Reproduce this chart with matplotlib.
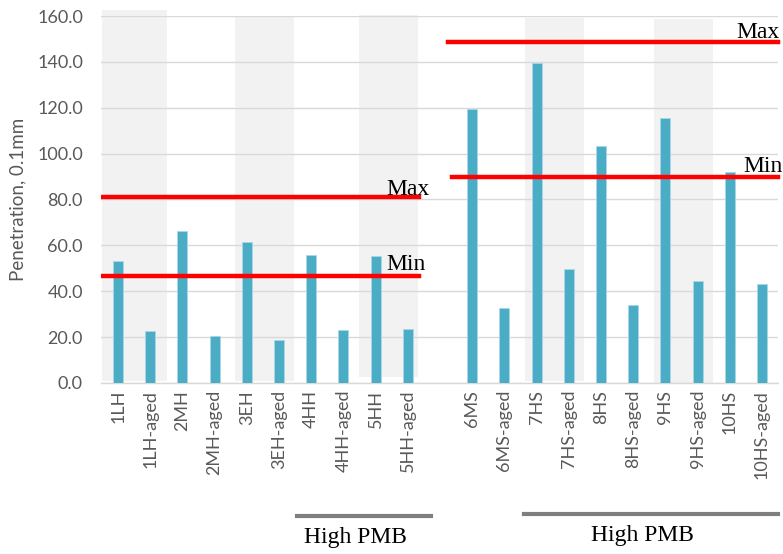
import matplotlib
matplotlib.use("Agg")
import matplotlib.pyplot as plt
from matplotlib.patches import Rectangle
from matplotlib.lines import Line2D

# Penetration results (0.1 mm), unaged and aged binders
group1_labels = ["1LH", "1LH-aged", "2MH", "2MH-aged", "3EH", "3EH-aged",
                 "4HH", "4HH-aged", "5HH", "5HH-aged"]
group1_values = [53.4, 22.5, 66.4, 20.6, 61.4, 18.7, 55.9, 23.1, 55.5, 23.5]

group2_labels = ["6MS", "6MS-aged", "7HS", "7HS-aged", "8HS", "8HS-aged",
                 "9HS", "9HS-aged", "10HS", "10HS-aged"]
group2_values = [119.6, 32.5, 139.5, 49.5, 103.2, 34.1, 115.7, 44.4, 91.8, 43.1]

# Specification limits for each grade
group1_limits = {"Max": 80.9, "Min": 46.5}
group2_limits = {"Max": 148.8, "Min": 90.0}

y_ticks = [0, 20, 40, 60, 80, 100, 120, 140, 160]

plt.rcParams["font.family"] = ["Lato", "DejaVu Sans"]

fig = plt.figure(figsize=(7.83, 5.54), dpi=100)
ax = fig.add_axes([0.129, 0.3087, 0.8647, 0.6624])

pos1 = list(range(len(group1_labels)))
pos2 = [len(group1_labels) + 1 + i for i in range(len(group2_labels))]
all_pos = pos1 + pos2
all_labels = group1_labels + group2_labels

# Alternating background bands
bands = [(-0.5, 2.02, 0.9, 162.6), (3.63, 1.84, 0.9, 160.0),
         (7.48, 1.84, 2.5, 160.4), (12.64, 1.83, 0.9, 159.1),
         (16.65, 1.83, 0.0, 158.6)]
for x0, w, y0, y1 in bands:
    ax.add_patch(Rectangle((x0, y0), w, y1 - y0, facecolor="#f2f2f2",
                           edgecolor="none", zorder=0, clip_on=False))

ax.bar(pos1, group1_values, width=0.31, color="#4bacc6",
       edgecolor="#a8d8e5", linewidth=0.6, zorder=3)
ax.bar(pos2, group2_values, width=0.31, color="#4bacc6",
       edgecolor="#a8d8e5", linewidth=0.6, zorder=3)

# Limit lines with labels
ax.plot([-0.53, 9.35], [group1_limits["Max"]] * 2, color="#ff0000", lw=3.2, zorder=4)
ax.plot([-0.53, 9.35], [group1_limits["Min"]] * 2, color="#ff0000", lw=3.2, zorder=4)
ax.plot([10.25, 20.5], [group2_limits["Max"]] * 2, color="#ff0000", lw=3.2, zorder=4,
        clip_on=False)
ax.plot([10.37, 20.5], [group2_limits["Min"]] * 2, color="#ff0000", lw=3.2, zorder=4,
        clip_on=False)

serif = ["Liberation Serif", "DejaVu Serif"]
fs_note = 17
ax.text(8.32, group1_limits["Max"] + 3.4, "Max", family=serif, fontsize=fs_note,
        color="black", va="center", ha="left", zorder=5)
ax.text(8.32, group1_limits["Min"] + 5.0, "Min", family=serif, fontsize=fs_note,
        color="black", va="center", ha="left", zorder=5)
ax.text(19.22, group2_limits["Max"] + 3.9, "Max", family=serif, fontsize=fs_note,
        color="black", va="center", ha="left", zorder=5, clip_on=False)
ax.text(19.41, group2_limits["Min"] + 4.3, "Min", family=serif, fontsize=fs_note,
        color="black", va="center", ha="left", zorder=5, clip_on=False)

ax.set_xlim(-0.53, 20.5)
ax.set_ylim(0, 160)
ax.set_yticks(y_ticks)
ax.set_yticklabels([f"{v:.1f}" for v in y_ticks])
ax.set_xticks(all_pos)
ax.set_xticklabels(all_labels, rotation=90)
ax.tick_params(axis="both", length=0, colors="#595959", labelsize=13)
ax.tick_params(axis="x", pad=5)
ax.tick_params(axis="y", pad=13)
ax.grid(axis="y", color="#d9d9d9", linewidth=1.0, zorder=1)
ax.set_axisbelow(True)
for side in ["top", "right", "left"]:
    ax.spines[side].set_visible(False)
ax.spines["bottom"].set_color("#d9d9d9")
ax.spines["bottom"].set_linewidth(1.0)
ax.set_ylabel("Penetration, 0.1mm", color="#595959", fontsize=13.5, labelpad=8)

# Group brackets beneath the axis labels
fig.add_artist(Line2D([297 / 783, 431 / 783], [1 - 516 / 554] * 2,
                      color="#7f7f7f", lw=3))
fig.add_artist(Line2D([524 / 783, 778 / 783], [1 - 514 / 554] * 2,
                      color="#7f7f7f", lw=3))
fig.text(355 / 783, 1 - 537 / 554, "High PMB", family=serif, fontsize=fs_note,
         ha="center", va="center", color="black")
fig.text(642 / 783, 1 - 535 / 554, "High PMB", family=serif, fontsize=fs_note,
         ha="center", va="center", color="black")

fig.savefig("out.png", dpi=100)
